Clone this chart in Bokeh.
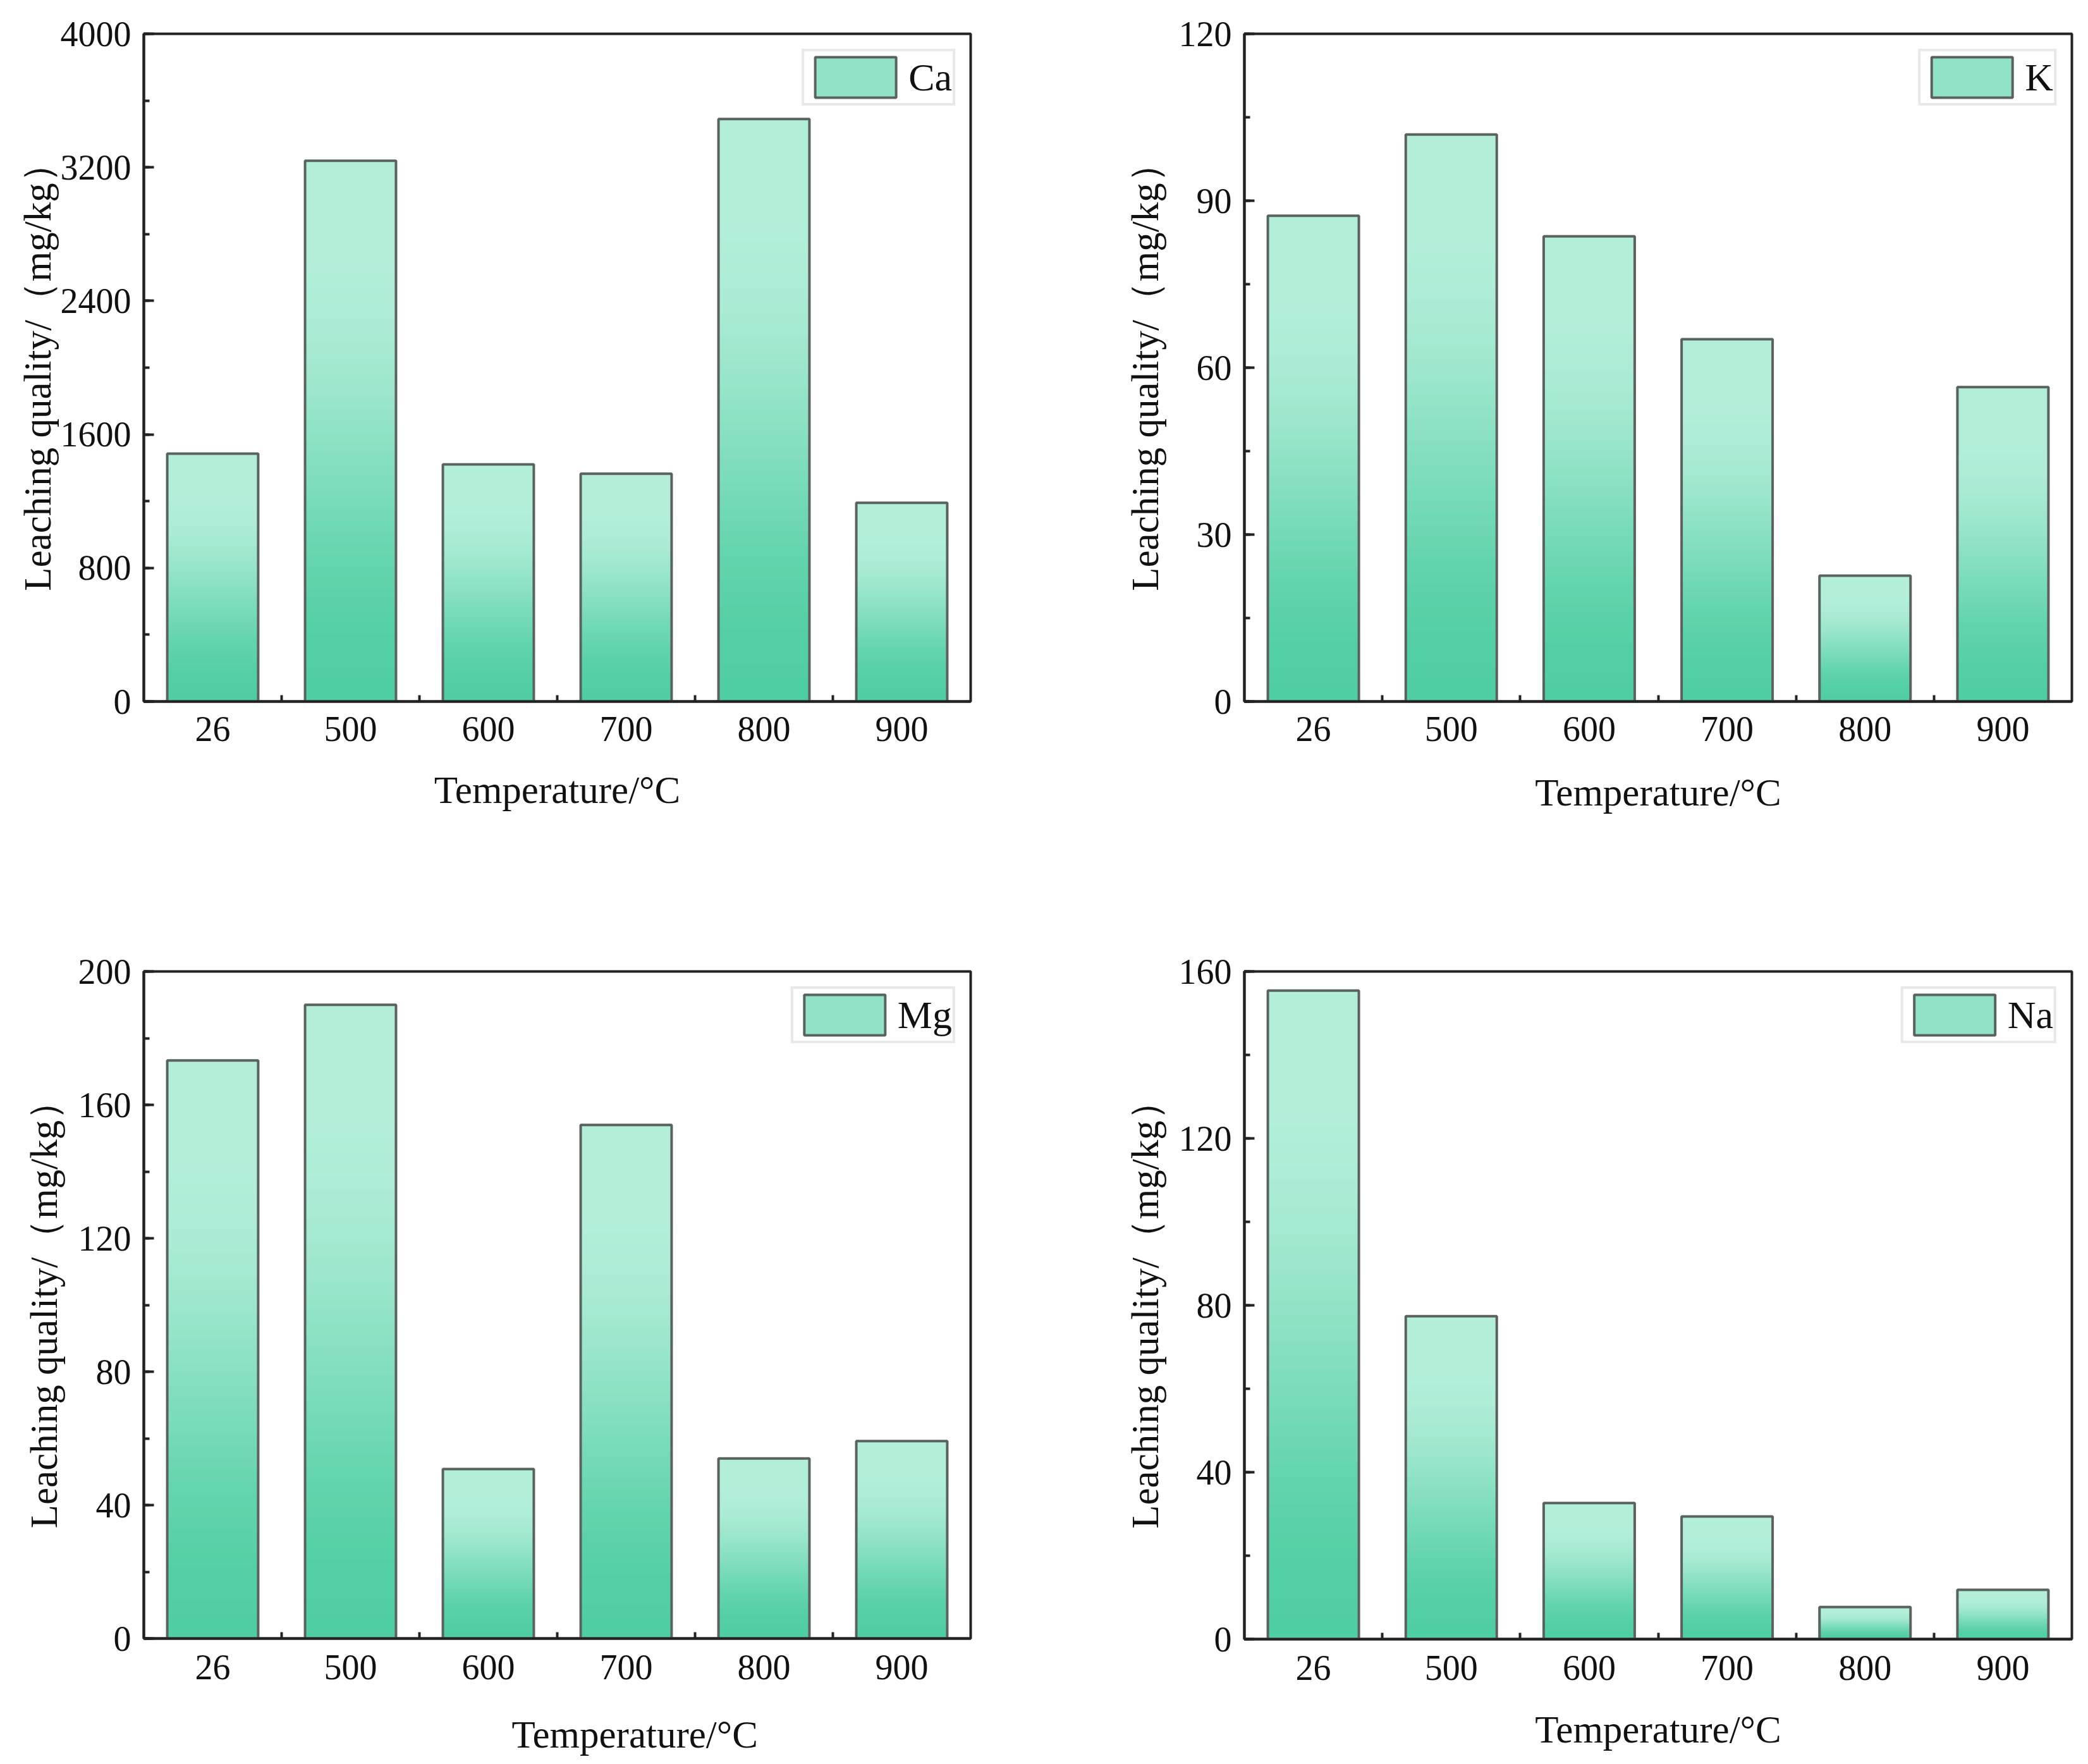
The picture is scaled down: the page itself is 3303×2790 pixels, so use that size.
from bokeh.plotting import figure
from bokeh.models import Range1d, FixedTicker, SingleIntervalTicker, Legend, LegendItem, Title
from bokeh.layouts import column, row
from bokeh.embed import file_html
from bokeh.resources import INLINE

# ---------------- data ----------------
temperatures = ["26", "500", "600", "700", "800", "900"]
ca_values = [1485, 3240, 1420, 1365, 3490, 1190]
k_values = [87.3, 101.9, 83.6, 65.1, 22.6, 56.5]
mg_values = [173.3, 190.0, 50.8, 154.0, 54.0, 59.2]
na_values = [155.4, 77.4, 32.6, 29.4, 7.7, 11.8]

x_label = "Temperature/°C"
y_label = "Leaching quality/（mg/kg）"

# ---------------- style ----------------
FONT = "Liberation Serif"
LIGHT = (179, 238, 217)
DARK = (80, 206, 163)
N_LEVELS = 48
BAR_W = 0.66


def shade(f):
    g = min(f / 0.85, 1.0)
    m = 3 * g * g - 2 * g * g * g
    r, gg, b = [round(d + (l - d) * m) for l, d in zip(LIGHT, DARK)]
    return f"#{r:02x}{gg:02x}{b:02x}"


def panel(values, name, ymax, step, geom, tick_standoff, xlabel_standoff, ylabel_standoff,
          xlabel_offset=None):
    left, top, fw, fh, right, bottom = geom
    n = len(temperatures)
    p = figure(
        frame_width=fw, frame_height=fh,
        min_border_left=left, min_border_top=top,
        min_border_right=right, min_border_bottom=bottom,
        x_range=Range1d(0, n), y_range=Range1d(0, ymax),
        output_backend="svg", toolbar_location=None, tools="",
    )
    xs = [i + 0.5 for i in range(n)]
    slices = []
    for k in range(N_LEVELS):
        bottoms = [v * k / N_LEVELS for v in values]
        r = p.vbar(x=xs, width=BAR_W, bottom=bottoms, top=values,
                   fill_color=shade(k / (N_LEVELS - 1)), line_color=None)
        slices.append(r)
    outline = p.vbar(x=xs, width=BAR_W, bottom=0, top=values,
                     fill_color=None, line_color="#5a625e", line_width=4)

    legend = Legend(
        items=[LegendItem(label=name, renderers=[slices[N_LEVELS // 2], outline])],
        location="top_right", margin=24, padding=1,
        glyph_width=160, glyph_height=80, label_standoff=4,
        label_text_font=FONT, label_text_font_size="62px", label_text_color="#111111",
        border_line_color="#d2d2d2", border_line_width=4,
        background_fill_color="white", background_fill_alpha=1.0,
    )
    p.add_layout(legend)

    p.grid.visible = False
    p.outline_line_color = "#222222"
    p.outline_line_width = 4
    p.background_fill_color = "white"
    p.border_fill_color = "white"

    for ax in (p.xaxis[0], p.yaxis[0]):
        ax.axis_line_width = 4
        ax.axis_line_color = "#222222"
        ax.major_tick_line_width = 4
        ax.minor_tick_line_width = 4
        ax.major_tick_line_color = "#222222"
        ax.minor_tick_line_color = "#222222"
        ax.major_label_text_font = FONT
        ax.major_label_text_font_size = "56px"
        ax.major_label_text_color = "#111111"
        ax.axis_label_text_font = FONT
        ax.axis_label_text_font_size = "61px"
        ax.axis_label_text_font_style = "normal"
        ax.axis_label_text_color = "#111111"

    xa = p.xaxis[0]
    xa.ticker = FixedTicker(ticks=xs, minor_ticks=list(range(1, n)))
    xa.major_label_overrides = {x: t for x, t in zip(xs, temperatures)}
    xa.major_tick_in = 0
    xa.major_tick_out = 0
    xa.minor_tick_in = 10
    xa.minor_tick_out = 0
    xa.major_label_standoff = tick_standoff
    if xlabel_offset is None:
        xa.axis_label = x_label
        xa.axis_label_standoff = xlabel_standoff
    else:
        t = Title(text=x_label, align="left", offset=xlabel_offset,
                  text_font=FONT, text_font_size="61px", text_font_style="normal",
                  text_color="#111111", standoff=xlabel_standoff)
        p.add_layout(t, "below")

    ya = p.yaxis[0]
    ya.ticker = SingleIntervalTicker(interval=step, num_minor_ticks=2)
    ya.major_tick_in = 16
    ya.major_tick_out = 0
    ya.minor_tick_in = 9
    ya.minor_tick_out = 0
    ya.major_label_standoff = 20
    ya.axis_label = y_label
    ya.axis_label_standoff = ylabel_standoff
    return p


p1 = panel(ca_values, "Ca", 4000, 800, (227, 49, 1308, 1056, 233, 303), 24, 41, 0)
p2 = panel(k_values, "K", 120, 30, (200, 53, 1309, 1056, 17, 299), 24, 45, 17)
p3 = panel(mg_values, "Mg", 200, 40, (227, 127, 1308, 1055, 233, 190), 26, 98, 18,
           xlabel_offset=582)
p4 = panel(na_values, "Na", 160, 40, (200, 128, 1309, 1056, 17, 189), 26, 42, 17)

layout = column(row(p1, p2), row(p3, p4))

open("out.html", "w").write(file_html(layout, INLINE))
